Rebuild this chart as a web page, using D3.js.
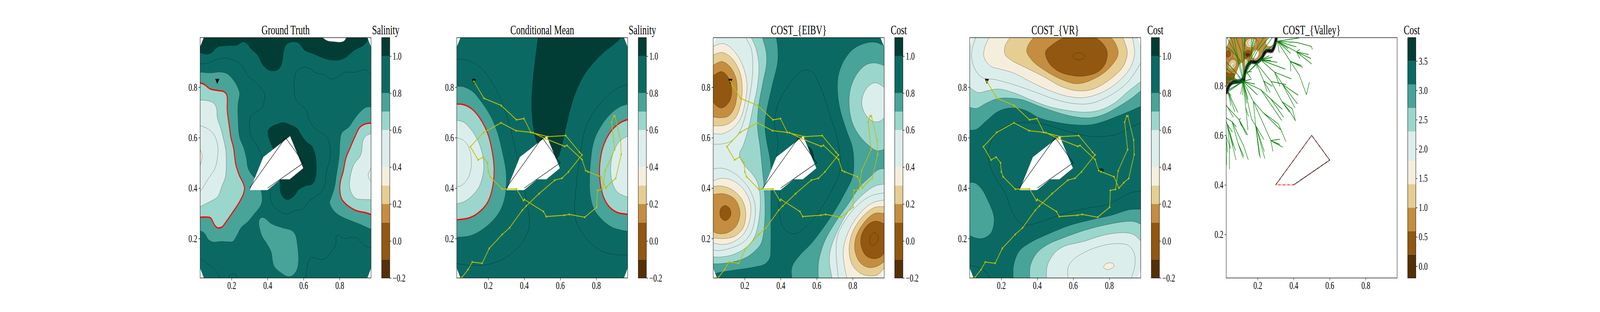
<!DOCTYPE html>
<html>
<head>
<meta charset="utf-8">
<script src="https://cdn.jsdelivr.net/npm/d3@7"></script>
<style>
  html, body { margin: 0; height: 100%; overflow: hidden; background: #fff; }
  text { font-family: "Liberation Serif", serif; fill: #000; }
</style>
</head>
<body>
<div class="figure"></div>
<script>
var TL = [0.02, 1.01], TR = [0.98, 1.01], BL = [0.02, 0.03], BR = [0.98, 0.03];
var LOOP = 'loop';

// value bands of the two colorbars
var salinityEdges = [-0.2, -0.1, 0.1, 0.2, 0.3, 0.4, 0.6, 0.7, 0.8, 1.0, 1.1];
var salinityTicks = [-0.2, 0, 0.2, 0.4, 0.6, 0.8, 1.0];
var valleyEdges = [-0.2, 0.2, 0.6, 1.0, 1.4, 1.8, 2.3, 2.7, 3.1, 3.5, 3.9];
var valleyTicks = [0, 0.5, 1, 1.5, 2, 2.5, 3, 3.5];
var bandColors = ['#553006', '#925710', '#c48d3f', '#e6cd92', '#f6eedc', '#dceeeb', '#9ad6cc', '#48a398', '#0a6a63', '#023d35'];
var axisTicks = [0.2, 0.4, 0.6, 0.8];

var titles = ['Ground Truth', 'Conditional Mean', 'COST_{EIBV}', 'COST_{VR}', 'COST_{Valley}'];
var barTitles = ['Salinity', 'Salinity', 'Cost', 'Cost', 'Cost'];

// operational area, corners are cut off
var fieldOutline = [[0.046, 0.9967], [0.954, 0.9967], [0.9746, 0.96], [0.9746, 0.0827], [0.954, 0.0436], [0.046, 0.0436], [0.0254, 0.0827], [0.0254, 0.96]];
// no-data patch round the obstacle
var obstaclePatch = [[0.302, 0.392], [0.376, 0.523], [0.525, 0.606], [0.598, 0.479], [0.523, 0.435], [0.472, 0.435], [0.399, 0.392]];
var obstacleEdge = [[0.3, 0.4], [0.5, 0.6], [0.6, 0.5], [0.4, 0.4]];
var startPoint = [0.1206, 0.8234];

var route = [[0.1206, 0.8234], [0.1766, 0.756], [0.2726, 0.7276], [0.3572, 0.6707], [0.3988, 0.6757], [0.4366, 0.621], [0.4494, 0.6196], [0.5167, 0.5961], [0.6248, 0.5656], [0.6376, 0.5692], [0.7215, 0.5131], [0.7412, 0.4698], [0.7548, 0.4648], [0.8266, 0.4449], [0.8538, 0.4001], [0.8803, 0.4214], [0.9082, 0.4385], [0.9385, 0.533], [0.9354, 0.5912], [0.9037, 0.6857], [0.8969, 0.6857], [0.8856, 0.6615], [0.9022, 0.5528], [0.8493, 0.4683], [0.8349, 0.3952], [0.8062, 0.3909], [0.8024, 0.3242], [0.7359, 0.2844], [0.6497, 0.2957], [0.6225, 0.2922], [0.522, 0.2872], [0.5069, 0.3071], [0.4011, 0.3547], [0.3958, 0.3505], [0.3572, 0.3966], [0.2779, 0.3959], [0.2106, 0.4449], [0.2008, 0.4648], [0.1962, 0.5003], [0.172, 0.523], [0.1441, 0.5116], [0.101, 0.5642], [0.1751, 0.621], [0.271, 0.6587], [0.3549, 0.6275], [0.4366, 0.621], [0.5303, 0.604], [0.6308, 0.6082], [0.7072, 0.5422], [0.7208, 0.5315], [0.646, 0.4648], [0.6097, 0.4392], [0.5696, 0.4314], [0.4827, 0.3781], [0.4116, 0.3291], [0.389, 0.3121], [0.3187, 0.2425], [0.2779, 0.2162], [0.206, 0.1608], [0.1667, 0.1018], [0.1116, 0.1068], [0.0882, 0.077], [0.0541, 0.0457], [0.04, 0.03]];

// ground truth: [value inside, outline, how it closes]
var truthBands = [
  [1.05, [[0.02, 0.9385], [0.06, 0.931], [0.0866, 0.936], [0.124, 0.96], [0.177, 0.965], [0.23, 0.967], [0.264, 0.98], [0.283, 0.974], [0.313, 0.949], [0.344, 0.928], [0.374, 0.889], [0.404, 0.869], [0.434, 0.865], [0.465, 0.875], [0.48, 0.899], [0.491, 0.949], [0.506, 0.971], [0.548, 0.98], [0.574, 0.974], [0.608, 0.946], [0.654, 0.933], [0.706, 0.917], [0.752, 0.908], [0.797, 0.908], [0.835, 0.919], [0.88, 0.946], [0.933, 0.967], [0.956, 0.988], [0.96, 1.01]], [TL]],
  [1.2, [[0.684, 1.01], [0.729, 0.985], [0.774, 0.98], [0.808, 0.979], [0.827, 0.985], [0.846, 1.01]]],
  [1.05, [[0.404, 0.63], [0.423, 0.644], [0.457, 0.654], [0.487, 0.66], [0.525, 0.651], [0.563, 0.637], [0.589, 0.608], [0.616, 0.583], [0.646, 0.566], [0.665, 0.53], [0.67, 0.495], [0.667, 0.445], [0.65, 0.417], [0.608, 0.408], [0.57, 0.392], [0.548, 0.37], [0.51, 0.354], [0.483, 0.367], [0.47, 0.392], [0.468, 0.434], [0.434, 0.551], [0.412, 0.587], [0.403, 0.615]], LOOP],
  [0.75, [[0.02, 0.86], [0.079, 0.857], [0.14, 0.86], [0.177, 0.853], [0.211, 0.828], [0.234, 0.8], [0.245, 0.775], [0.236, 0.733], [0.236, 0.679], [0.245, 0.601], [0.268, 0.559], [0.283, 0.516], [0.291, 0.48], [0.313, 0.452], [0.328, 0.441], [0.351, 0.416], [0.366, 0.385], [0.37, 0.353], [0.362, 0.331], [0.328, 0.299], [0.291, 0.267], [0.253, 0.243], [0.234, 0.218], [0.208, 0.189], [0.177, 0.187], [0.14, 0.188], [0.098, 0.186], [0.071, 0.196], [0.049, 0.221], [0.02, 0.233]]],
  [0.65, [[0.02, 0.818], [0.049, 0.811], [0.079, 0.794], [0.124, 0.787], [0.158, 0.782], [0.174, 0.768], [0.176, 0.708], [0.189, 0.637], [0.196, 0.601], [0.211, 0.559], [0.223, 0.495], [0.242, 0.452], [0.264, 0.42], [0.272, 0.399], [0.264, 0.374], [0.238, 0.338], [0.208, 0.306], [0.17, 0.267], [0.147, 0.246], [0.121, 0.243], [0.106, 0.253], [0.083, 0.282], [0.056, 0.285], [0.02, 0.284]]],
  [0.5, [[0.02, 0.749], [0.064, 0.747], [0.102, 0.736], [0.117, 0.715], [0.121, 0.679], [0.14, 0.637], [0.166, 0.559], [0.17, 0.53], [0.166, 0.445], [0.147, 0.409], [0.124, 0.367], [0.087, 0.349], [0.049, 0.335], [0.02, 0.324]]],
  [0.35, [[0.02, 0.561], [0.036, 0.53], [0.031, 0.502], [0.02, 0.482]]],
  [0.75, [[0.98, 0.721], [0.948, 0.721], [0.911, 0.7], [0.873, 0.665], [0.854, 0.644], [0.812, 0.619], [0.803, 0.594], [0.797, 0.523], [0.782, 0.452], [0.771, 0.402], [0.752, 0.36], [0.744, 0.342], [0.763, 0.314], [0.797, 0.292], [0.85, 0.274], [0.911, 0.257], [0.98, 0.235]]],
  [0.65, [[0.98, 0.658], [0.941, 0.654], [0.911, 0.64], [0.888, 0.608], [0.858, 0.559], [0.835, 0.519], [0.82, 0.466], [0.805, 0.427], [0.801, 0.395], [0.812, 0.356], [0.85, 0.328], [0.895, 0.31], [0.941, 0.303], [0.98, 0.294]]],
  [0.5, [[0.98, 0.616], [0.948, 0.608], [0.929, 0.587], [0.922, 0.544], [0.911, 0.523], [0.88, 0.495], [0.861, 0.452], [0.855, 0.409], [0.865, 0.381], [0.888, 0.36], [0.933, 0.355], [0.98, 0.354]]],
  [0.75, [[0.351, 0.267], [0.362, 0.282], [0.381, 0.282], [0.419, 0.26], [0.48, 0.243], [0.533, 0.232], [0.555, 0.214], [0.567, 0.168], [0.572, 0.111], [0.563, 0.076], [0.54, 0.054], [0.514, 0.049], [0.472, 0.065], [0.434, 0.093], [0.419, 0.147], [0.396, 0.179], [0.366, 0.214]], LOOP]
];
var truthLines = [
  [[0.02, 0.648], [0.064, 0.637], [0.102, 0.612], [0.121, 0.576], [0.124, 0.537], [0.109, 0.48], [0.071, 0.438], [0.041, 0.402], [0.02, 0.381]],
  [[0.98, 0.485], [0.959, 0.456], [0.963, 0.438], [0.98, 0.422]],
  [[0.02, 0.894], [0.064, 0.894], [0.117, 0.91], [0.17, 0.915], [0.215, 0.906], [0.253, 0.889], [0.291, 0.846], [0.336, 0.818], [0.374, 0.786], [0.385, 0.772], [0.378, 0.736], [0.366, 0.715], [0.321, 0.697], [0.304, 0.679], [0.3, 0.644], [0.31, 0.601], [0.344, 0.566], [0.374, 0.516]],
  [[0.415, 0.392], [0.418, 0.353], [0.434, 0.328], [0.472, 0.306], [0.51, 0.297], [0.548, 0.31], [0.593, 0.317], [0.631, 0.349], [0.669, 0.367], [0.706, 0.392], [0.721, 0.424], [0.725, 0.459], [0.744, 0.509], [0.748, 0.559], [0.729, 0.601], [0.691, 0.622], [0.654, 0.644], [0.631, 0.672], [0.616, 0.708], [0.585, 0.729], [0.555, 0.754], [0.548, 0.786], [0.549, 0.835], [0.563, 0.864], [0.601, 0.88], [0.631, 0.875], [0.669, 0.857], [0.714, 0.85], [0.752, 0.833], [0.782, 0.837], [0.827, 0.858], [0.888, 0.86], [0.933, 0.869], [0.956, 0.864], [0.98, 0.843]],
  [[0.612, 0.03], [0.623, 0.1], [0.642, 0.123], [0.669, 0.123], [0.695, 0.116], [0.729, 0.125], [0.759, 0.154], [0.778, 0.175], [0.782, 0.21], [0.793, 0.214], [0.827, 0.2], [0.865, 0.205], [0.895, 0.203], [0.926, 0.179], [0.948, 0.168], [0.98, 0.164]],
  [[0.02, 0.124], [0.064, 0.1], [0.109, 0.076], [0.143, 0.03]],
  [[0.176, 0.03], [0.192, 0.056], [0.211, 0.06], [0.226, 0.054], [0.238, 0.03]]
];

var meanBands = [
  [1.05, [[0.48, 1.01], [0.462, 0.914], [0.447, 0.814], [0.442, 0.736], [0.447, 0.665], [0.462, 0.601], [0.477, 0.573], [0.583, 0.519], [0.602, 0.551], [0.617, 0.594], [0.632, 0.644], [0.659, 0.722], [0.689, 0.786], [0.734, 0.85], [0.787, 0.899], [0.848, 0.942], [0.916, 0.981], [0.954, 1.01]]],
  [0.75, [[0.02, 0.803], [0.062, 0.802], [0.115, 0.782], [0.168, 0.736], [0.213, 0.686], [0.251, 0.622], [0.281, 0.537], [0.298, 0.473], [0.301, 0.417], [0.292, 0.36], [0.266, 0.31], [0.22, 0.267], [0.16, 0.232], [0.099, 0.211], [0.02, 0.205]]],
  [0.65, [[0.02, 0.733], [0.062, 0.731], [0.107, 0.715], [0.152, 0.679], [0.198, 0.615], [0.224, 0.537], [0.233, 0.473], [0.224, 0.402], [0.198, 0.345], [0.152, 0.306], [0.099, 0.283], [0.02, 0.274]]],
  [0.5, [[0.02, 0.669], [0.062, 0.662], [0.107, 0.63], [0.152, 0.573], [0.174, 0.509], [0.174, 0.466], [0.152, 0.409], [0.107, 0.367], [0.062, 0.345], [0.02, 0.337]]],
  [0.75, [[0.98, 0.734], [0.931, 0.722], [0.878, 0.693], [0.825, 0.644], [0.787, 0.587], [0.768, 0.502], [0.763, 0.431], [0.766, 0.374], [0.787, 0.317], [0.833, 0.274], [0.893, 0.243], [0.98, 0.228]]],
  [0.65, [[0.98, 0.673], [0.931, 0.658], [0.878, 0.622], [0.836, 0.559], [0.82, 0.495], [0.819, 0.445], [0.836, 0.374], [0.87, 0.328], [0.916, 0.304], [0.98, 0.296]]],
  [0.5, [[0.98, 0.607], [0.931, 0.587], [0.893, 0.537], [0.88, 0.48], [0.889, 0.424], [0.916, 0.385], [0.98, 0.363]]]
];
var meanLines = [
  [[0.02, 0.91], [0.062, 0.91], [0.115, 0.898], [0.168, 0.871], [0.22, 0.821], [0.258, 0.772], [0.296, 0.701], [0.326, 0.63], [0.349, 0.559], [0.368, 0.495], [0.387, 0.445], [0.402, 0.392], [0.417, 0.331], [0.428, 0.282], [0.425, 0.239], [0.394, 0.189], [0.341, 0.147], [0.273, 0.115], [0.198, 0.097], [0.137, 0.093], [0.077, 0.095], [0.02, 0.102]],
  [[0.98, 0.811], [0.916, 0.796], [0.84, 0.75], [0.772, 0.686], [0.734, 0.622], [0.715, 0.551], [0.7, 0.48], [0.689, 0.409], [0.681, 0.353], [0.68, 0.31], [0.689, 0.267], [0.727, 0.218], [0.78, 0.175], [0.84, 0.147], [0.908, 0.136], [0.98, 0.135]],
  [[0.02, 0.6], [0.062, 0.59], [0.092, 0.562], [0.107, 0.509], [0.099, 0.459], [0.077, 0.427], [0.047, 0.409], [0.02, 0.405]]
];

var eibvBands = [
  [0.75, [[0.372, 1.01], [0.384, 0.956], [0.383, 0.899], [0.353, 0.807], [0.319, 0.693], [0.313, 0.644], [0.322, 0.587], [0.341, 0.516], [0.347, 0.466], [0.345, 0.374], [0.345, 0.161], [0.341, 0.125], [0.315, 0.1], [0.247, 0.086], [0.156, 0.076], [0.073, 0.067], [0.039, 0.061], [0.02, 0.05]], [TL]],
  [0.65, [[0.292, 1.01], [0.319, 0.942], [0.321, 0.892], [0.3, 0.814], [0.277, 0.722], [0.271, 0.644], [0.285, 0.566], [0.3, 0.459], [0.311, 0.374], [0.313, 0.303], [0.307, 0.232], [0.292, 0.182], [0.262, 0.154], [0.209, 0.125], [0.134, 0.107], [0.058, 0.1], [0.02, 0.1]], [TL]],
  [0.5, [[0.226, 1.01], [0.262, 0.956], [0.279, 0.885], [0.27, 0.8], [0.247, 0.722], [0.224, 0.644], [0.194, 0.573], [0.171, 0.534], [0.194, 0.495], [0.239, 0.459], [0.27, 0.424], [0.285, 0.374], [0.285, 0.31], [0.27, 0.239], [0.247, 0.196], [0.202, 0.161], [0.134, 0.136], [0.073, 0.127], [0.02, 0.127]], [TL]],
  [0.35, [[0.02, 0.96], [0.081, 0.973], [0.134, 0.949], [0.186, 0.892], [0.213, 0.814], [0.205, 0.75], [0.179, 0.679], [0.134, 0.637], [0.073, 0.615], [0.02, 0.617]]],
  [0.25, [[0.02, 0.926], [0.073, 0.938], [0.126, 0.917], [0.171, 0.864], [0.186, 0.807], [0.179, 0.736], [0.149, 0.679], [0.096, 0.651], [0.02, 0.647]]],
  [0.15, [[0.02, 0.885], [0.073, 0.902], [0.118, 0.882], [0.152, 0.835], [0.158, 0.786], [0.145, 0.722], [0.111, 0.686], [0.065, 0.679], [0.02, 0.683]]],
  [0.05, [[0.02, 0.843], [0.073, 0.862], [0.111, 0.835], [0.128, 0.786], [0.115, 0.743], [0.073, 0.718], [0.039, 0.729], [0.02, 0.75]]],
  [0.35, [[0.02, 0.427], [0.073, 0.439], [0.141, 0.427], [0.194, 0.395], [0.232, 0.338], [0.228, 0.274], [0.194, 0.218], [0.134, 0.186], [0.073, 0.176], [0.02, 0.184]]],
  [0.25, [[0.02, 0.406], [0.073, 0.408], [0.134, 0.392], [0.186, 0.353], [0.206, 0.303], [0.194, 0.246], [0.149, 0.211], [0.088, 0.2], [0.02, 0.203]]],
  [0.15, [[0.02, 0.374], [0.088, 0.377], [0.149, 0.353], [0.174, 0.303], [0.156, 0.253], [0.111, 0.225], [0.058, 0.219], [0.02, 0.228]]],
  [0.05, [[0.092, 0.331], [0.115, 0.321], [0.124, 0.301], [0.115, 0.282], [0.092, 0.271], [0.069, 0.282], [0.062, 0.301], [0.069, 0.321]], LOOP],
  [0.75, [[0.98, 0.962], [0.927, 0.978], [0.867, 0.974], [0.799, 0.949], [0.746, 0.899], [0.719, 0.843], [0.716, 0.779], [0.731, 0.708], [0.765, 0.63], [0.799, 0.559], [0.806, 0.495], [0.799, 0.445], [0.746, 0.367], [0.7, 0.31], [0.64, 0.246], [0.572, 0.182], [0.504, 0.132], [0.466, 0.093], [0.459, 0.068], [0.466, 0.03]], [BR]],
  [0.65, [[0.98, 0.884], [0.927, 0.896], [0.874, 0.889], [0.821, 0.85], [0.787, 0.793], [0.78, 0.736], [0.795, 0.665], [0.837, 0.608], [0.889, 0.569], [0.935, 0.548], [0.98, 0.555]]],
  [0.5, [[0.98, 0.796], [0.927, 0.818], [0.882, 0.8], [0.855, 0.764], [0.851, 0.729], [0.87, 0.693], [0.912, 0.665], [0.95, 0.665], [0.98, 0.683]]],
  [0.65, [[0.98, 0.477], [0.942, 0.473], [0.897, 0.445], [0.844, 0.409], [0.776, 0.338], [0.7, 0.26], [0.64, 0.182], [0.61, 0.104], [0.61, 0.03]], [BR]],
  [0.5, [[0.98, 0.416], [0.927, 0.409], [0.867, 0.381], [0.799, 0.331], [0.731, 0.253], [0.678, 0.161], [0.67, 0.111], [0.689, 0.03]], [BR]],
  [0.35, [[0.98, 0.353], [0.912, 0.342], [0.844, 0.303], [0.784, 0.239], [0.75, 0.168], [0.75, 0.111], [0.772, 0.03]], [BR]],
  [0.25, [[0.98, 0.326], [0.92, 0.323], [0.852, 0.285], [0.799, 0.225], [0.78, 0.161], [0.795, 0.1], [0.837, 0.065], [0.889, 0.052], [0.942, 0.058], [0.98, 0.09]]],
  [0.15, [[0.98, 0.299], [0.92, 0.299], [0.859, 0.26], [0.817, 0.203], [0.812, 0.154], [0.837, 0.108], [0.882, 0.086], [0.935, 0.09], [0.98, 0.111]]],
  [0.05, [[0.98, 0.257], [0.927, 0.269], [0.882, 0.253], [0.848, 0.211], [0.848, 0.168], [0.874, 0.132], [0.92, 0.12], [0.958, 0.129], [0.98, 0.147]]],
  [1.05, [[0.553, 0.564], [0.572, 0.553], [0.583, 0.527], [0.58, 0.505], [0.549, 0.523]], LOOP]
];
var eibvLines = [
  [[0.194, 1.01], [0.236, 0.953], [0.245, 0.885], [0.236, 0.8], [0.209, 0.701], [0.171, 0.622], [0.126, 0.587], [0.073, 0.575], [0.02, 0.574]],
  [[0.02, 0.475], [0.073, 0.479], [0.126, 0.466], [0.179, 0.438], [0.232, 0.388], [0.258, 0.331], [0.254, 0.267], [0.232, 0.218], [0.186, 0.182], [0.118, 0.161], [0.058, 0.152], [0.02, 0.155]],
  [[0.98, 0.381], [0.904, 0.37], [0.836, 0.338], [0.768, 0.282], [0.716, 0.211], [0.708, 0.14], [0.723, 0.03]]
];
var eibvLoops = [
  [[0.92, 0.223], [0.938, 0.214], [0.942, 0.196], [0.927, 0.179], [0.908, 0.172], [0.895, 0.186], [0.898, 0.207]],
  [[0.542, 0.869], [0.58, 0.857], [0.617, 0.807], [0.647, 0.75], [0.678, 0.679], [0.708, 0.615], [0.727, 0.544], [0.731, 0.48], [0.716, 0.438], [0.67, 0.374], [0.61, 0.303], [0.549, 0.253], [0.489, 0.221], [0.451, 0.221], [0.413, 0.246], [0.394, 0.296], [0.39, 0.345], [0.396, 0.392], [0.376, 0.516], [0.385, 0.587], [0.368, 0.637], [0.368, 0.679], [0.39, 0.743], [0.443, 0.807], [0.496, 0.853]]
];

var vrBands = [
  [0.75, [[0.02, 0.63], [0.062, 0.633], [0.115, 0.665], [0.183, 0.704], [0.259, 0.718], [0.335, 0.708], [0.41, 0.679], [0.508, 0.661], [0.607, 0.651], [0.697, 0.651], [0.773, 0.665], [0.849, 0.686], [0.924, 0.708], [0.98, 0.726]], [TR, TL]],
  [0.65, [[0.02, 0.722], [0.062, 0.716], [0.115, 0.736], [0.176, 0.754], [0.244, 0.757], [0.319, 0.75], [0.41, 0.725], [0.508, 0.701], [0.607, 0.683], [0.697, 0.679], [0.773, 0.693], [0.849, 0.722], [0.924, 0.757], [0.98, 0.789]], [TR, TL]],
  [0.5, [[0.02, 0.803], [0.07, 0.779], [0.123, 0.786], [0.183, 0.793], [0.267, 0.779], [0.365, 0.75], [0.471, 0.722], [0.569, 0.708], [0.66, 0.701], [0.743, 0.708], [0.826, 0.736], [0.909, 0.786], [0.98, 0.825]], [TR, TL]],
  [0.35, [[0.142, 1.01], [0.108, 0.956], [0.104, 0.921], [0.138, 0.885], [0.198, 0.871], [0.267, 0.857], [0.365, 0.821], [0.471, 0.786], [0.569, 0.764], [0.66, 0.759], [0.758, 0.779], [0.849, 0.821], [0.917, 0.878], [0.941, 0.935], [0.924, 1.01]]],
  [0.25, [[0.263, 1.01], [0.221, 0.963], [0.221, 0.931], [0.259, 0.906], [0.335, 0.878], [0.433, 0.843], [0.531, 0.804], [0.622, 0.786], [0.712, 0.793], [0.811, 0.835], [0.879, 0.885], [0.9, 0.935], [0.886, 0.978], [0.867, 1.01]]],
  [0.15, [[0.395, 1.01], [0.35, 0.967], [0.342, 0.942], [0.372, 0.906], [0.433, 0.871], [0.531, 0.832], [0.622, 0.814], [0.72, 0.835], [0.803, 0.878], [0.849, 0.931], [0.837, 0.97], [0.796, 1.01]]],
  [0.05, [[0.584, 1.01], [0.486, 0.97], [0.446, 0.939], [0.463, 0.899], [0.516, 0.864], [0.599, 0.846], [0.667, 0.845], [0.743, 0.864], [0.781, 0.899], [0.788, 0.942], [0.758, 0.978], [0.697, 1.01]]],
  [0.75, [[0.02, 0.422], [0.055, 0.42], [0.093, 0.395], [0.13, 0.345], [0.157, 0.296], [0.161, 0.267], [0.146, 0.225], [0.108, 0.203], [0.07, 0.2], [0.04, 0.207], [0.02, 0.214]]],
  [0.75, [[0.268, 0.03], [0.268, 0.09], [0.297, 0.147], [0.357, 0.182], [0.471, 0.221], [0.584, 0.253], [0.697, 0.274], [0.811, 0.292], [0.909, 0.314], [0.98, 0.316]], [BR]],
  [0.65, [[0.36, 0.03], [0.361, 0.09], [0.395, 0.14], [0.455, 0.175], [0.546, 0.203], [0.66, 0.232], [0.773, 0.253], [0.886, 0.267], [0.939, 0.267], [0.98, 0.255]], [BR]],
  [0.5, [[0.453, 0.03], [0.455, 0.09], [0.493, 0.14], [0.546, 0.168], [0.66, 0.189], [0.773, 0.214], [0.886, 0.223], [0.939, 0.214], [0.98, 0.186]], [BR]],
  [0.35, [[0.799, 0.104], [0.822, 0.1], [0.827, 0.091], [0.811, 0.081], [0.784, 0.077], [0.769, 0.086], [0.777, 0.097]], LOOP],
  [1.05, [[0.756, 0.478], [0.769, 0.473], [0.767, 0.466], [0.75, 0.466], [0.743, 0.473]], LOOP]
];
var vrLines = [
  [[0.066, 1.01], [0.04, 0.956], [0.036, 0.914], [0.055, 0.871], [0.093, 0.839], [0.168, 0.83], [0.267, 0.811], [0.395, 0.779], [0.508, 0.75], [0.607, 0.735], [0.697, 0.736], [0.796, 0.764], [0.894, 0.814], [0.954, 0.871], [0.98, 0.903]],
  [[0.573, 0.03], [0.571, 0.083], [0.599, 0.115], [0.667, 0.147], [0.758, 0.171], [0.849, 0.18], [0.909, 0.171], [0.939, 0.14], [0.943, 0.097], [0.917, 0.03]],
  [[0.98, 0.658], [0.924, 0.644], [0.849, 0.615], [0.773, 0.605], [0.697, 0.605], [0.622, 0.615], [0.546, 0.63], [0.471, 0.647], [0.395, 0.658], [0.319, 0.66], [0.244, 0.651], [0.191, 0.63], [0.146, 0.587], [0.127, 0.537], [0.138, 0.488], [0.176, 0.431], [0.221, 0.381], [0.259, 0.31], [0.297, 0.267], [0.335, 0.253], [0.41, 0.264], [0.493, 0.285], [0.584, 0.306], [0.697, 0.323], [0.773, 0.331], [0.849, 0.356], [0.917, 0.381], [0.98, 0.388]],
  [[0.02, 0.095], [0.078, 0.083], [0.115, 0.068], [0.142, 0.03]]
];
var vrLoops = [
  [[0.631, 0.937], [0.656, 0.931], [0.663, 0.922], [0.652, 0.912], [0.631, 0.909], [0.607, 0.914], [0.599, 0.924], [0.61, 0.933]]
];

// valley cost: the reachable patch top left, cost values on the valley colorbar
var valleyPatch = [[0.0464, 0.995], [0.305, 0.995], [0.295, 0.966], [0.28, 0.942], [0.248, 0.941], [0.218, 0.909], [0.196, 0.896], [0.1615, 0.896], [0.142, 0.879], [0.128, 0.847], [0.1195, 0.821], [0.1, 0.818], [0.058, 0.813], [0.0405, 0.8], [0.0254, 0.768], [0.0254, 0.953]];
var valleyBands = [
  [0.4, [[0.026, 0.855], [0.046, 0.85], [0.073, 0.847], [0.066, 0.828], [0.046, 0.82], [0.026, 0.791]]],
  [1.2, [[0.043, 0.894], [0.061, 0.905], [0.078, 0.9], [0.08, 0.884], [0.068, 0.87], [0.051, 0.868], [0.039, 0.876]], LOOP],
  [1.6, [[0.051, 0.889], [0.063, 0.894], [0.071, 0.886], [0.066, 0.878], [0.056, 0.876]], LOOP],
  [2.0, [[0.061, 0.886], [0.066, 0.885], [0.066, 0.88], [0.061, 0.88]], LOOP],
  [1.2, [[0.132, 0.976], [0.147, 0.989], [0.174, 0.992], [0.192, 0.981], [0.187, 0.963], [0.169, 0.955], [0.142, 0.957], [0.132, 0.968]], LOOP],
  [1.6, [[0.147, 0.978], [0.16, 0.986], [0.177, 0.984], [0.179, 0.971], [0.167, 0.963], [0.15, 0.965]], LOOP],
  [2.0, [[0.157, 0.976], [0.164, 0.981], [0.172, 0.976], [0.167, 0.968], [0.16, 0.968]], LOOP],
  [0.4, [[0.123, 0.934], [0.14, 0.942], [0.164, 0.939], [0.169, 0.928], [0.155, 0.918], [0.135, 0.91], [0.123, 0.915]], LOOP],
  [0.0, [[0.133, 0.928], [0.15, 0.931], [0.157, 0.926], [0.142, 0.918]], LOOP],
  [0.4, [[0.026, 0.936], [0.039, 0.944], [0.051, 0.934], [0.048, 0.921], [0.036, 0.915], [0.026, 0.921]], LOOP],
  [1.2, [[0.127, 0.905], [0.14, 0.907], [0.145, 0.894], [0.132, 0.878], [0.125, 0.884]], LOOP],
  [4.2, [[0.073, 0.839], [0.081, 0.849], [0.095, 0.876], [0.103, 0.889], [0.115, 0.892], [0.12, 0.87], [0.118, 0.844], [0.11, 0.831], [0.095, 0.826], [0.076, 0.831]], LOOP],
  [4.2, [[0.169, 0.923], [0.184, 0.942], [0.201, 0.942], [0.206, 0.931], [0.197, 0.915], [0.179, 0.91]], LOOP],
  [4.2, [[0.248, 0.968], [0.258, 1.0], [0.297, 1.0], [0.29, 0.968], [0.268, 0.959]], LOOP]
];
var valleyLoops = [
  [[0.031, 0.889], [0.058, 0.912], [0.085, 0.902], [0.09, 0.881], [0.076, 0.863], [0.048, 0.857], [0.031, 0.873]],
  [[0.123, 0.973], [0.15, 0.99], [0.185, 0.992], [0.203, 0.975], [0.195, 0.955], [0.16, 0.945], [0.13, 0.95]],
  [[0.026, 0.945], [0.045, 0.952], [0.062, 0.935], [0.058, 0.915], [0.036, 0.905]]
];
var valleyBand = [[0.0254, 0.768], [0.0405, 0.8], [0.058, 0.813], [0.1, 0.818], [0.1195, 0.821], [0.128, 0.847], [0.142, 0.879], [0.1615, 0.896], [0.196, 0.896], [0.218, 0.909], [0.248, 0.941], [0.28, 0.942], [0.295, 0.966], [0.304, 0.995]];
var valleyDiamond = [[0.107, 0.825], [0.1195, 0.839], [0.132, 0.825], [0.1195, 0.808]];
var valleyCross = [[[0.09, 0.839], [0.113, 0.817]], [[0.098, 0.8115], [0.11, 0.826]]];

var root = [0.1195, 0.818];
var valleyTree = [
  [root, [0.199, 0.763]], [root, [0.185, 0.807]], [root, [0.1655, 0.827]], [root, [0.106, 0.766]], [root, [0.117, 0.763]], [root, [0.139, 0.729]], [root, [0.147, 0.745]],
  [root, [0.218, 0.784], [0.273, 0.747], [0.337, 0.705]], [[0.273, 0.747], [0.344, 0.673]], [[0.218, 0.784], [0.287, 0.71], [0.334, 0.66]],
  [root, [0.176, 0.737], [0.233, 0.69], [0.315, 0.646], [0.329, 0.623], [0.357, 0.575]], [[0.233, 0.69], [0.327, 0.623]],
  [[0.176, 0.737], [0.189, 0.639], [0.234, 0.584]], [[0.176, 0.737], [0.273, 0.579], [0.324, 0.584]], [[0.273, 0.579], [0.324, 0.563]], [[0.273, 0.579], [0.339, 0.552]], [[0.273, 0.579], [0.285, 0.535]],
  [[0.189, 0.639], [0.237, 0.535]], [[0.189, 0.639], [0.215, 0.508]], [[0.189, 0.639], [0.24, 0.506]], [[0.189, 0.639], [0.209, 0.517]],
  [root, [0.134, 0.711], [0.146, 0.621]], [[0.134, 0.711], [0.149, 0.676]], [root, [0.166, 0.666]], [[0.166, 0.666], [0.189, 0.639]],
  [root, [0.0356, 0.776], [0.053, 0.76]], [[0.0356, 0.776], [0.052, 0.718]], [[0.0356, 0.776], [0.073, 0.695]], [[0.0356, 0.776], [0.09, 0.692]],
  [[0.024, 0.725], [0.065, 0.673]], [[0.024, 0.721], [0.097, 0.663], [0.105, 0.669]], [[0.097, 0.663], [0.145, 0.601]], [[0.097, 0.663], [0.11, 0.637]], [[0.097, 0.663], [0.137, 0.602]],
  [[0.024, 0.671], [0.058, 0.655], [0.082, 0.634]], [[0.058, 0.655], [0.122, 0.558], [0.148, 0.501]], [[0.058, 0.655], [0.091, 0.568], [0.1195, 0.509]], [[0.091, 0.568], [0.123, 0.5155]],
  [[0.024, 0.66], [0.031, 0.645], [0.06, 0.613]], [[0.031, 0.645], [0.048, 0.5455]], [[0.031, 0.645], [0.0775, 0.537]], [[0.031, 0.645], [0.063, 0.558]], [[0.031, 0.645], [0.08, 0.501]],
  [[0.024, 0.6], [0.043, 0.558], [0.043, 0.464]], [[0.024, 0.6], [0.027, 0.481]], [[0.024, 0.6], [0.033, 0.531]],
  [[0.2454, 0.939], [0.309, 0.98], [0.43, 0.993]], [[0.309, 0.98], [0.418, 0.975], [0.498, 0.959], [0.504, 0.947]], [[0.309, 0.98], [0.32, 0.934]], [[0.309, 0.98], [0.384, 0.93]], [[0.309, 0.98], [0.369, 0.95]], [[0.309, 0.98], [0.415, 0.957]],
  [[0.309, 0.98], [0.381, 0.899]], [[0.309, 0.98], [0.416, 0.937]],
  [[0.416, 0.937], [0.483, 0.926]], [[0.416, 0.937], [0.496, 0.91]], [[0.416, 0.937], [0.5, 0.888]], [[0.416, 0.937], [0.434, 0.947]], [[0.416, 0.937], [0.434, 0.91]],
  [[0.381, 0.899], [0.443, 0.882]], [[0.381, 0.899], [0.451, 0.874]], [[0.381, 0.899], [0.384, 0.858]], [[0.381, 0.899], [0.43, 0.845], [0.471, 0.765], [0.487, 0.814]],
  [[0.218, 0.904], [0.282, 0.916]], [[0.218, 0.904], [0.309, 0.895]], [[0.218, 0.904], [0.354, 0.867]], [[0.218, 0.904], [0.294, 0.855], [0.388, 0.828]], [[0.294, 0.855], [0.324, 0.798]], [[0.294, 0.855], [0.339, 0.805], [0.425, 0.762]], [[0.339, 0.805], [0.421, 0.727]], [[0.339, 0.805], [0.407, 0.711]],
  [[0.218, 0.904], [0.194, 0.89], [0.196, 0.87]], [[0.194, 0.89], [0.233, 0.82], [0.282, 0.798]], [[0.233, 0.82], [0.252, 0.776]], [[0.233, 0.82], [0.27, 0.773]],
  [[0.194, 0.89], [0.275, 0.817], [0.335, 0.736], [0.392, 0.708], [0.409, 0.661]], [[0.335, 0.736], [0.377, 0.693]], [[0.335, 0.736], [0.376, 0.7], [0.411, 0.658]], [[0.275, 0.817], [0.358, 0.805]],
  [[0.03, 0.994], [0.098, 0.905], [0.12, 0.828]], [[0.053, 0.994], [0.088, 0.907], root], [[0.068, 0.994], [0.098, 0.886]], [[0.081, 0.994], [0.11, 0.934], [0.123, 0.828]], [[0.113, 0.994], [0.123, 0.913]], [[0.132, 0.994], [0.12, 0.897]], [[0.127, 0.994], [0.124, 0.828]],
  [[0.024, 0.96], [0.081, 0.923], [0.108, 0.897]], [[0.024, 0.897], [0.076, 0.857], root], [[0.024, 0.87], [0.066, 0.847]],
  [[0.179, 0.994], [0.164, 0.934], [0.135, 0.865]], [[0.167, 0.994], [0.167, 0.934]], [[0.194, 0.989], [0.169, 0.939]], [[0.234, 0.994], [0.164, 0.913], [0.123, 0.828]], [[0.261, 0.994], [0.199, 0.941], [0.145, 0.865]], [[0.281, 0.994], [0.234, 0.947], [0.219, 0.91], [0.14, 0.849]],
  [[0.219, 0.905], [0.278, 0.915]], [[0.219, 0.905], [0.263, 0.921]], [[0.219, 0.905], [0.273, 0.902]], [[0.135, 0.857], [0.167, 0.857]], [[0.14, 0.854], [0.162, 0.831]], [[0.14, 0.849], [0.196, 0.889]],
  [[0.024, 0.836], root], [[0.024, 0.828], root], [[0.024, 0.812], root], [[0.039, 0.784], root]
];

var panelWidth = 641, panelTop = 96.5, panelBottom = 712.7;
var panelLeft = [750.5, 1712.8, 2674.6, 3636.6, 4598.3];
var fontSizeTitle = 33, fontSizeTick = 26.4;
var contourColor = 'rgba(0,0,0,0.6)', routeColor = '#bfbf00';

// drawn in 6000x800 units and fitted to whatever window it gets
var svg = d3.select('.figure').append('svg')
  .attr('viewBox', '0 0 6000 800')
  .attr('preserveAspectRatio', 'none')
  .style('display', 'block')
  .style('width', '100vw')
  .style('height', '100vh');

var smooth = d3.line().curve(d3.curveCatmullRom.alpha(0.5));
var smoothLoop = d3.line().curve(d3.curveCatmullRomClosed.alpha(0.5));
var straight = d3.line();

function project(pts, x, y) {
  return pts.map(function(p) { return [x(p[0]), y(p[1])]; });
}

// fill path closes along the frame, stroke path only follows the contour
function bandFill(band, x, y) {
  var pts = project(band[1], x, y);
  if (band[2] === LOOP) return smoothLoop(pts);
  var d = smooth(pts);
  if (band[2]) project(band[2], x, y).forEach(function(c) { d += 'L' + c[0] + ',' + c[1]; });
  return d + 'Z';
}
function bandStroke(band, x, y) {
  var pts = project(band[1], x, y);
  return band[2] === LOOP ? smoothLoop(pts) : smooth(pts);
}

function addAxes(g, x, y) {
  var xAxis = d3.axisBottom(x).tickValues(axisTicks).tickFormat(d3.format('.1f')).tickSize(6).tickPadding(3.6);
  var yAxis = d3.axisLeft(y).tickValues(axisTicks).tickFormat(d3.format('.1f')).tickSize(6).tickPadding(4.7);
  [g.append('g').attr('transform', 'translate(0,' + panelBottom + ')').call(xAxis),
   g.append('g').attr('transform', 'translate(' + x.range()[0] + ',0)').call(yAxis)].forEach(function(a) {
    a.select('.domain').remove();
    a.selectAll('line').attr('stroke', '#000').attr('stroke-width', 1.3);
    a.selectAll('text').style('font-size', fontSizeTick + 'px').style('font-family', '"Liberation Serif", serif').attr('fill', '#000');
  });
  g.append('rect')
    .attr('x', x.range()[0]).attr('y', panelTop)
    .attr('width', panelWidth).attr('height', panelBottom - panelTop)
    .attr('fill', 'none').attr('stroke', '#000').attr('stroke-width', 1.3);
}

function addColorbar(g, left, edges, ticks, title) {
  var barX = left + 680.7, barW = 30.5;
  var y = d3.scaleLinear().domain([edges[0], edges[edges.length - 1]]).range([panelBottom, panelTop]);
  g.selectAll('.bar').data(bandColors).enter().append('rect')
    .attr('class', 'bar')
    .attr('x', barX)
    .attr('y', function(d, i) { return y(edges[i + 1]); })
    .attr('width', barW)
    .attr('height', function(d, i) { return y(edges[i]) - y(edges[i + 1]); })
    .attr('fill', function(d) { return d; });
  g.append('rect')
    .attr('x', barX).attr('y', panelTop).attr('width', barW).attr('height', panelBottom - panelTop)
    .attr('fill', 'none').attr('stroke', '#000').attr('stroke-width', 1.3);
  var axis = g.append('g').attr('transform', 'translate(' + (barX + barW) + ',0)')
    .call(d3.axisRight(y).tickValues(ticks).tickFormat(d3.format('.1f')).tickSize(6).tickPadding(5));
  axis.select('.domain').remove();
  axis.selectAll('line').attr('stroke', '#000').attr('stroke-width', 1.3);
  axis.selectAll('text').style('font-size', fontSizeTick + 'px').style('font-family', '"Liberation Serif", serif').attr('fill', '#000');
  g.append('text').attr('x', barX + barW / 2).attr('y', 88).attr('text-anchor', 'middle')
    .style('font-size', fontSizeTitle + 'px').text(title);
}

function addFieldPanel(i, bands, lines, loops, hasRoute, edges, ticks) {
  var left = panelLeft[i];
  var x = d3.scaleLinear().domain([0.0254, 0.9746]).range([left, left + panelWidth]);
  var y = d3.scaleLinear().domain([0.0436, 0.9967]).range([panelBottom, panelTop]);
  var color = d3.scaleThreshold().domain(salinityEdges.slice(1)).range(bandColors.concat('#fff'));
  var g = svg.append('g');

  var clip = g.append('clipPath').attr('id', 'field' + i);
  clip.append('path').attr('d', straight(project(fieldOutline, x, y)) + 'Z');
  var axesClip = g.append('clipPath').attr('id', 'axes' + i);
  axesClip.append('rect').attr('x', left).attr('y', panelTop).attr('width', panelWidth).attr('height', panelBottom - panelTop);

  var field = g.append('g').attr('clip-path', 'url(#field' + i + ')');
  field.append('rect').attr('x', left).attr('y', panelTop).attr('width', panelWidth).attr('height', panelBottom - panelTop).attr('fill', color(0.9));

  field.selectAll('.band').data(bands).enter().append('path')
    .attr('class', 'band')
    .attr('d', function(b) { return bandFill(b, x, y); })
    .attr('fill', function(b) { return color(b[0]); });
  field.selectAll('.level').data(bands).enter().append('path')
    .attr('class', 'level')
    .attr('d', function(b) { return bandStroke(b, x, y); })
    .attr('fill', 'none').attr('stroke', contourColor).attr('stroke-width', 0.8);
  field.selectAll('.line').data(lines).enter().append('path')
    .attr('class', 'line')
    .attr('d', function(l) { return smooth(project(l, x, y)); })
    .attr('fill', 'none').attr('stroke', contourColor).attr('stroke-width', 0.8);
  field.selectAll('.ring').data(loops).enter().append('path')
    .attr('class', 'ring')
    .attr('d', function(l) { return smoothLoop(project(l, x, y)); })
    .attr('fill', 'none').attr('stroke', contourColor).attr('stroke-width', 0.8);

  // 0.7 threshold contour only on the two salinity panels
  if (i < 2) {
    field.selectAll('.threshold').data(bands.filter(function(b) { return b[0] === 0.65; })).enter().append('path')
      .attr('class', 'threshold')
      .attr('d', function(b) { return bandStroke(b, x, y); })
      .attr('fill', 'none').attr('stroke', '#f00').attr('stroke-width', 3.4);
  }

  g.append('path').attr('d', straight(project(obstaclePatch, x, y)) + 'Z').attr('fill', '#fff');
  g.append('path').attr('d', straight(project(obstacleEdge, x, y))).attr('fill', 'none').attr('stroke', '#000').attr('stroke-width', 1.3);

  var top = g.append('g').attr('clip-path', 'url(#axes' + i + ')');
  top.append('path')
    .attr('d', d3.symbol(d3.symbolTriangle, 100)())
    .attr('transform', 'translate(' + x(startPoint[0]) + ',' + (y(startPoint[1]) - 2) + ') rotate(180)')
    .attr('fill', '#000');
  if (hasRoute) {
    top.append('path').attr('d', straight(project(route, x, y)))
      .attr('fill', 'none').attr('stroke', routeColor).attr('stroke-width', 2.3);
    top.selectAll('.stop').data(route).enter().append('circle')
      .attr('class', 'stop')
      .attr('cx', function(d) { return x(d[0]); })
      .attr('cy', function(d) { return y(d[1]); })
      .attr('r', 2.7)
      .attr('fill', routeColor);
  }

  addAxes(g, x, y);
  g.append('text').attr('x', left + panelWidth / 2).attr('y', 88).attr('text-anchor', 'middle')
    .style('font-size', fontSizeTitle + 'px').text(titles[i]);
  addColorbar(g, left, edges, ticks, barTitles[i]);
}

function addValleyPanel() {
  var left = panelLeft[4];
  var x = d3.scaleLinear().domain([0.0254, 0.9746]).range([left, left + panelWidth]);
  var y = d3.scaleLinear().domain([0.0244, 0.9944]).range([panelBottom, panelTop]);
  var color = d3.scaleThreshold().domain(valleyEdges.slice(1)).range(bandColors.concat('#fff'));
  var g = svg.append('g');

  g.append('clipPath').attr('id', 'axes4').append('rect')
    .attr('x', left).attr('y', panelTop).attr('width', panelWidth).attr('height', panelBottom - panelTop);
  var field = g.append('g').attr('clip-path', 'url(#axes4)');

  field.append('path').attr('d', straight(project(valleyPatch, x, y)) + 'Z').attr('fill', color(0.8));
  field.selectAll('.band').data(valleyBands).enter().append('path')
    .attr('class', 'band')
    .attr('d', function(b) { return bandFill(b, x, y); })
    .attr('fill', function(b) { return color(b[0]); })
    .attr('stroke', function(b) { return b[0] > 4 ? 'none' : 'rgba(0,0,0,0.6)'; })
    .attr('stroke-width', 0.7);
  field.selectAll('.ring').data(valleyLoops).enter().append('path')
    .attr('class', 'ring')
    .attr('d', function(l) { return smoothLoop(project(l, x, y)); })
    .attr('fill', 'none').attr('stroke', 'rgba(0,0,0,0.6)').attr('stroke-width', 0.7);

  // steep rim of the patch, contours pile up to a dark band
  [['#a8a8a8', 13], ['#555', 10], ['#111', 7]].forEach(function(s) {
    field.append('path').attr('d', smooth(project(valleyBand, x, y)))
      .attr('fill', 'none').attr('stroke', s[0]).attr('stroke-width', s[1]);
  });
  field.append('path').attr('d', straight(project(valleyDiamond, x, y)) + 'Z').attr('fill', '#000');

  field.selectAll('.branch').data(valleyTree).enter().append('path')
    .attr('class', 'branch')
    .attr('d', function(b) { return straight(project(b, x, y)); })
    .attr('fill', 'none').attr('stroke', '#008000').attr('stroke-width', 1.7);
  field.selectAll('.cross').data(valleyCross).enter().append('path')
    .attr('class', 'cross')
    .attr('d', function(b) { return straight(project(b, x, y)); })
    .attr('fill', 'none').attr('stroke', '#00f').attr('stroke-width', 1);

  g.append('path').attr('d', straight(project(obstacleEdge.concat([obstacleEdge[0]]), x, y)))
    .attr('fill', 'none').attr('stroke', '#f00').attr('stroke-width', 2).attr('stroke-dasharray', '9,3,2,3');
  g.append('path').attr('d', straight(project(obstacleEdge, x, y))).attr('fill', 'none').attr('stroke', '#000').attr('stroke-width', 1.3);

  addAxes(g, x, y);
  g.append('text').attr('x', left + panelWidth / 2).attr('y', 88).attr('text-anchor', 'middle')
    .style('font-size', fontSizeTitle + 'px').text(titles[4]);
  addColorbar(g, left, valleyEdges, valleyTicks, barTitles[4]);
}

addFieldPanel(0, truthBands, truthLines, [], false, salinityEdges, salinityTicks);
addFieldPanel(1, meanBands, meanLines, [], true, salinityEdges, salinityTicks);
addFieldPanel(2, eibvBands, eibvLines, eibvLoops, true, salinityEdges, salinityTicks);
addFieldPanel(3, vrBands, vrLines, vrLoops, true, salinityEdges, salinityTicks);
addValleyPanel();
</script>
</body>
</html>
